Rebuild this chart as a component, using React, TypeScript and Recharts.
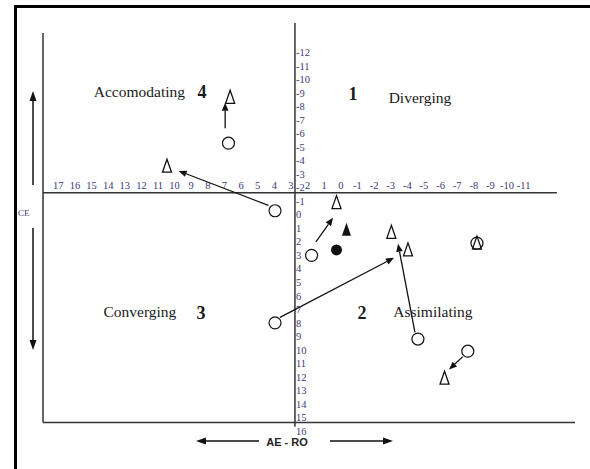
import React from "react";
import { ScatterChart, Scatter, XAxis, YAxis, ReferenceLine, ReferenceDot } from "recharts";

// ── Plot frame, in data units ───────────────────────────────────────
const X_MIN = -13.85;
const X_MAX = 18.16;
const Y_MIN = -14.2;
const Y_MAX = 16.6;
const AXIS_X = 3; // where the vertical (AC-CE) axis crosses
const AXIS_Y = -1.63; // where the horizontal (AE-RO) axis crosses
const FRAME_TOP = -13.46;
const FRAME_BOTTOM = 15.38;
const H_AXIS_END = -12.76;

// ── Tick labels printed along the two crossing axes ─────────────────
const xTickValues = [17, 16, 15, 14, 13, 12, 11, 10, 9, 8, 7, 6, 5, 4, 3, 2, 1, 0, -1, -2, -3, -4, -5, -6, -7, -8, -9, -10, -11];
const yTickValues = [-12, -11, -10, -9, -8, -7, -6, -5, -4, -3, -2, -1, 0, 1, 2, 3, 4, 5, 6, 7, 8, 9, 10, 11, 12, 13, 14, 15, 16];

// ── Scores: open circles = before, open triangles = after ───────────
const before = [
  { x: 7.0, y: -5.3 },
  { x: 4.2, y: -0.3 },
  { x: 2.0, y: 3.0 },
  { x: 4.2, y: 8.0 },
  { x: -4.4, y: 9.2 },
  { x: -7.4, y: 10.1 },
  { x: -7.95, y: 2.1 },
];
const after = [
  { x: 6.9, y: -8.7 },
  { x: 10.7, y: -3.6 },
  { x: 0.5, y: -0.9 },
  { x: -3.8, y: 2.6 },
  { x: -2.8, y: 1.3 },
  { x: -6.0, y: 12.1 },
  { x: -7.95, y: 2.1 },
];
const beforeMean = [{ x: 0.5, y: 2.6 }];
const afterMean = [{ x: -0.1, y: 1.1 }];

// arrows drawn from each before-score towards its after-score
const shifts = [
  { from: { x: 7.2, y: -6.4 }, to: { x: 7.2, y: -8.3 } },
  { from: { x: 4.6, y: -0.7 }, to: { x: 10.0, y: -3.25 } },
  { from: { x: 1.74, y: 2.0 }, to: { x: 0.71, y: 0.22 } },
  { from: { x: 3.9, y: 7.6 }, to: { x: -2.96, y: 3.18 } },
  { from: { x: -4.22, y: 8.7 }, to: { x: -3.2, y: 2.14 } },
  { from: { x: -7.1, y: 10.5 }, to: { x: -6.27, y: 11.46 } },
];

const SERIF = "'Liberation Serif', 'Times New Roman', serif";
const TICK_COLOR = "#3c3a78";
const LINE = "#333";

const OpenCircle = (p: any) => (
  <circle cx={p.cx} cy={p.cy} r={6} fill="#fff" stroke="#111" strokeWidth={1.2} />
);
const FilledCircle = (p: any) => <circle cx={p.cx} cy={p.cy} r={5.5} fill="#111" />;
const triPoints = (cx: number, cy: number) =>
  `${cx},${cy - 7} ${cx - 4.5},${cy + 6} ${cx + 4.5},${cy + 6}`;
const OpenTriangle = (p: any) => (
  <polygon points={triPoints(p.cx, p.cy)} fill="none" stroke="#111" strokeWidth={1.3} />
);
const FilledTriangle = (p: any) => <polygon points={triPoints(p.cx, p.cy)} fill="#111" />;

const XTick = (p: any) => (
  <text x={p.cx - 4} y={p.cy - 4} textAnchor="middle" fontSize={10.5} fontFamily={SERIF} fill={TICK_COLOR}>
    {p.payload.label}
  </text>
);
const YTick = (p: any) => (
  <text x={p.cx + 1} y={p.cy} dy="0.35em" textAnchor="start" fontSize={10.5} fontFamily={SERIF} fill={TICK_COLOR}>
    {p.payload.label}
  </text>
);

const Arrow = (p: any) => {
  const { x1, y1, x2, y2 } = p;
  const a = Math.atan2(y2 - y1, x2 - x1);
  const len = 8;
  const half = 3.3;
  const bx = x2 - len * Math.cos(a);
  const by = y2 - len * Math.sin(a);
  const nx = -Math.sin(a) * half;
  const ny = Math.cos(a) * half;
  return (
    <g>
      <line x1={x1} y1={y1} x2={bx} y2={by} stroke="#111" strokeWidth={1.3} />
      <polygon points={`${x2},${y2} ${bx + nx},${by + ny} ${bx - nx},${by - ny}`} fill="#111" />
    </g>
  );
};

const label = (text: string, size: number, bold = false) => (p: any) => (
  <text
    x={p.cx}
    y={p.cy}
    dy="0.35em"
    textAnchor="middle"
    fontSize={size}
    fontWeight={bold ? "bold" : "normal"}
    fontFamily={SERIF}
    fill="#1a1a1a"
  >
    {text}
  </text>
);

export default function App() {
  const xTicks = xTickValues.map((v) => ({ x: v, y: AXIS_Y, label: String(v) }));
  const yTicks = yTickValues.map((v) => ({ x: AXIS_X, y: v, label: String(v) }));

  return (
    <div style={{ position: "absolute", left: 0, top: 0, width: 590, height: 469, background: "#fff" }}>
      <ScatterChart width={590} height={469} margin={{ top: 23, right: 15, bottom: 30, left: 43 }}>
        <XAxis type="number" dataKey="x" domain={[X_MIN, X_MAX]} reversed allowDataOverflow hide />
        <YAxis type="number" dataKey="y" domain={[Y_MIN, Y_MAX]} reversed allowDataOverflow hide />

        {/* frame and crossing axes */}
        <ReferenceLine segment={[{ x: X_MAX, y: FRAME_TOP }, { x: X_MAX, y: FRAME_BOTTOM }]} stroke={LINE} strokeWidth={1.5} ifOverflow="visible" />
        <ReferenceLine segment={[{ x: X_MAX, y: FRAME_BOTTOM }, { x: X_MIN, y: FRAME_BOTTOM }]} stroke={LINE} strokeWidth={1.5} ifOverflow="visible" />
        <ReferenceLine segment={[{ x: X_MAX, y: AXIS_Y }, { x: H_AXIS_END, y: AXIS_Y }]} stroke={LINE} strokeWidth={1.5} ifOverflow="visible" />
        <ReferenceLine segment={[{ x: AXIS_X, y: Y_MIN }, { x: AXIS_X, y: 15.7 }]} stroke={LINE} strokeWidth={1.5} ifOverflow="visible" />

        <Scatter data={xTicks} shape={XTick} isAnimationActive={false} />
        <Scatter data={yTicks} shape={YTick} isAnimationActive={false} />

        {/* quadrant names */}
        <ReferenceDot x={12.36} y={-9.1} r={0} ifOverflow="visible" shape={label("Accomodating", 15.5)} />
        <ReferenceDot x={8.6} y={-9.1} r={0} ifOverflow="visible" shape={label("4", 18, true)} />
        <ReferenceDot x={-0.49} y={-9.0} r={0} ifOverflow="visible" shape={label("1", 18, true)} />
        <ReferenceDot x={-4.52} y={-8.65} r={0} ifOverflow="visible" shape={label("Diverging", 15.5)} />
        <ReferenceDot x={12.33} y={7.17} r={0} ifOverflow="visible" shape={label("Converging", 15.5)} />
        <ReferenceDot x={8.66} y={7.25} r={0} ifOverflow="visible" shape={label("3", 18, true)} />
        <ReferenceDot x={-1.03} y={7.25} r={0} ifOverflow="visible" shape={label("2", 18, true)} />
        <ReferenceDot x={-5.3} y={7.17} r={0} ifOverflow="visible" shape={label("Assimilating", 15.5)} />

        {shifts.map((s, i) => (
          <ReferenceLine key={i} segment={[s.from, s.to]} shape={Arrow} ifOverflow="visible" />
        ))}

        <Scatter data={before} shape={OpenCircle} isAnimationActive={false} />
        <Scatter data={after} shape={OpenTriangle} isAnimationActive={false} />
        <Scatter data={beforeMean} shape={FilledCircle} isAnimationActive={false} />
        <Scatter data={afterMean} shape={FilledTriangle} isAnimationActive={false} />
      </ScatterChart>

      {/* page frame and axis captions outside the plot */}
      <svg width={590} height={469} style={{ position: "absolute", left: 0, top: 0, pointerEvents: "none" }}>
        <rect x={14} y={5} width={576} height={3} fill="#000" />
        <rect x={14} y={5} width={3} height={464} fill="#000" />

        <line x1={33} y1={185} x2={33} y2={100} stroke="#111" strokeWidth={1.5} />
        <polygon points="33,91 29.5,101 36.5,101" fill="#111" />
        <line x1={33} y1={228} x2={33} y2={341} stroke="#111" strokeWidth={1.5} />
        <polygon points="33,350 29.5,340 36.5,340" fill="#111" />
        <text x={18} y={213} dy="0.35em" fontSize={9} fontFamily={SERIF} fill={TICK_COLOR}>CE</text>

        <line x1={259} y1={441} x2={205} y2={441} stroke="#111" strokeWidth={1.5} />
        <polygon points="196,441 206,437.5 206,444.5" fill="#111" />
        <text x={287} y={442} dy="0.35em" textAnchor="middle" fontSize={11} fontWeight="bold" fontFamily="'Liberation Sans', Arial, sans-serif" fill="#222">
          AE - RO
        </text>
        <line x1={330} y1={441} x2={384} y2={441} stroke="#111" strokeWidth={1.5} />
        <polygon points="393,441 383,437.5 383,444.5" fill="#111" />
      </svg>
    </div>
  );
}
